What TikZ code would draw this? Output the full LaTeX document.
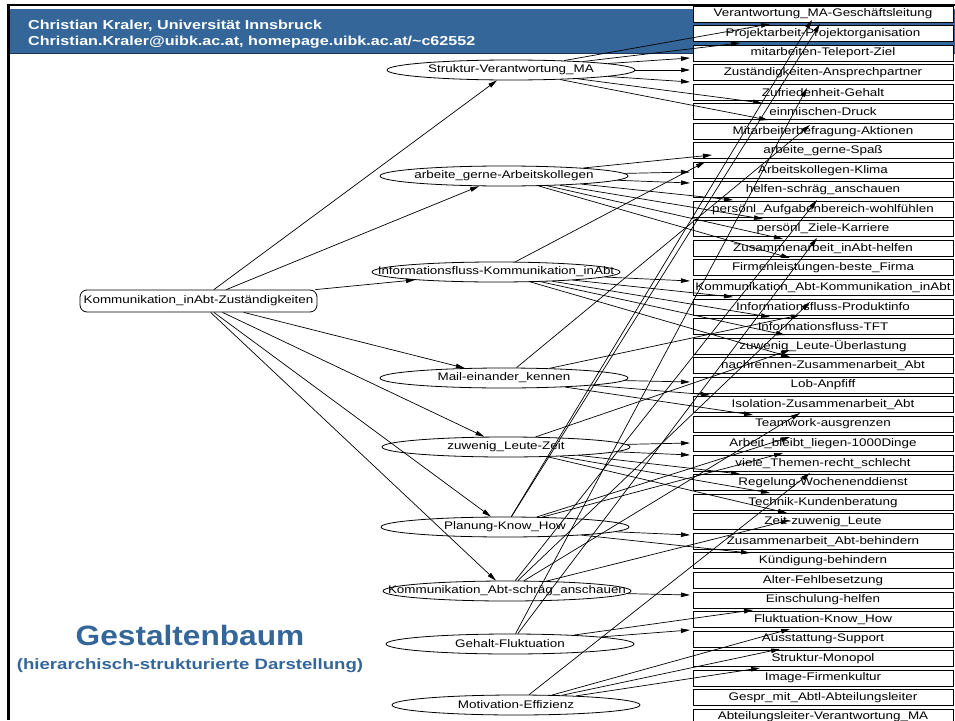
\documentclass[tikz,border=0pt]{standalone}
\usepackage{fontspec}
\setmainfont{Liberation Sans}
\newfontfamily\labelfont[FakeStretch=1.22]{Liberation Sans}
\newfontfamily\headfont[FakeStretch=1.24]{Liberation Sans}
\newfontfamily\titlefont[FakeStretch=1.13]{Liberation Sans}
\usetikzlibrary{shapes.geometric,arrows.meta}
\definecolor{slideblue}{RGB}{53,102,154}
\definecolor{slidenavy}{RGB}{30,50,90}
\tikzset{
  lbl/.style={font=\labelfont\fontsize{11}{12}\selectfont, inner sep=0pt},
  box/.style={lbl, draw, fill=white, line width=0.8pt, minimum width=260pt, minimum height=16pt},
  % fixed-size ellipse; the text sits on top and may run over the outline
  ell/.style={draw, ellipse, line width=0.8pt, minimum width=248pt, minimum height=20pt,
              inner sep=0pt, label={[lbl]center:#1}},
  rootbox/.style={lbl, draw, rounded corners=7pt, line width=0.8pt, minimum width=237pt, minimum height=22pt},
  edge/.style={draw, line width=0.7pt, -{Triangle[length=9pt,width=4.5pt]}},
  headtext/.style={anchor=base west, text=white, font=\headfont\bfseries\fontsize{13}{14}\selectfont, inner sep=0pt},
}
\begin{document}
\begin{tikzpicture}[x=1pt,y=-1pt]
\useasboundingbox (0,0) rectangle (955,720);
\fill[white] (0,0) rectangle (955,720);
% slide frame and header band
\fill[slideblue] (9,9) rectangle (955,53);
\draw[slidenavy, line width=1.5pt] (9,53.5) -- (955,53.5);
\draw[black, line width=1.2pt] (8,5) -- (955,5);
\draw[black, line width=2.5pt] (8.5,4) -- (8.5,720);
\node[headtext] (hd1) at (28,29) {Christian Kraler, Universität Innsbruck};
\node[headtext] (hd2) at (28,45) {Christian.Kraler@uibk.ac.at, homepage.uibk.ac.at/\string~c62552};
% title
\node[text=slideblue, font=\titlefont\bfseries\fontsize{28}{30}\selectfont, inner sep=0pt, anchor=base] (tt) at (190,645) {Gestaltenbaum};
\node[text=slideblue, font=\headfont\bfseries\fontsize{15}{17}\selectfont, inner sep=0pt, anchor=base] (st) at (190,669) {(hierarchisch-strukturierte Darstellung)};

% right column of boxes
\foreach \i/\t in {
 1/Verantwortung\_MA-Geschäftsleitung,
 2/Projektarbeit-Projektorganisation,
 3/mitarbeiten-Teleport-Ziel,
 4/Zuständigkeiten-Ansprechpartner,
 5/Zufriedenheit-Gehalt,
 6/einmischen-Druck,
 7/Mitarbeiterbefragung-Aktionen,
 8/arbeite\_gerne-Spaß,
 9/Arbeitskollegen-Klima,
 10/helfen-schräg\_anschauen,
 11/persönl\_Aufgabenbereich-wohlfühlen,
 12/persönl\_Ziele-Karriere,
 13/Zusammenarbeit\_inAbt-helfen,
 14/Firmenleistungen-beste\_Firma,
 15/Kommunikation\_Abt-Kommunikation\_inAbt,
 16/Informationsfluss-Produktinfo,
 17/Informationsfluss-TFT,
 18/zuwenig\_Leute-Überlastung,
 19/nachrennen-Zusammenarbeit\_Abt,
 20/Lob-Anpfiff,
 21/Isolation-Zusammenarbeit\_Abt,
 22/Teamwork-ausgrenzen,
 23/Arbeit\_bleibt\_liegen-1000Dinge,
 24/viele\_Themen-recht\_schlecht,
 25/Regelung-Wochenenddienst,
 26/Technik-Kundenberatung,
 27/Zeit-zuwenig\_Leute,
 28/Zusammenarbeit\_Abt-behindern,
 29/Kündigung-behindern,
 30/Alter-Fehlbesetzung,
 31/Einschulung-helfen,
 32/Fluktuation-Know\_How,
 33/Ausstattung-Support,
 34/Struktur-Monopol,
 35/Image-Firmenkultur,
 36/Gespr\_mit\_Abtl-Abteilungsleiter,
 37/Abteilungsleiter-Verantwortung\_MA}
 \node[box] (b\i) at (823,{14+19.53*(\i-1)}) {\t};

% root and second level
\node[rootbox] (root) at (198.5,301) {Kommunikation\_inAbt-Zuständigkeiten};
\node[ell={Struktur-Verantwortung\_MA}] (e1) at (511,70) {};
\node[ell={arbeite\_gerne-Arbeitskollegen}] (e2) at (504,176) {};
\node[ell={Informationsfluss-Kommunikation\_inAbt}] (e3) at (496,272) {};
\node[ell={Mail-einander\_kennen}] (e4) at (504,378) {};
\node[ell={zuwenig\_Leute-Zeit}] (e5) at (506,447) {};
\node[ell={Planung-Know\_How}] (e6) at (505,527) {};
\node[ell={Kommunikation\_Abt-schräg\_anschauen}] (e7) at (507,591) {};
\node[ell={Gehalt-Fluktuation}] (e8) at (510,644) {};
\node[ell={Motivation-Effizienz}] (e9) at (516,705) {};

\foreach \e in {e1,e2,e3,e4,e5,e6,e7}
  \draw[edge] (root) -- (\e);

% arrow tips in the box column
\foreach \e/\x/\y in {
 e1/770/24, e1/740/43, e1/690/58, e1/690/70, e1/690/82, e1/762/103, e1/768/120,
 e2/712/155, e2/690/172, e2/690/183, e2/733/200, e2/763/219, e2/783/239, e2/790/258,
 e3/705/162, e3/690/281, e3/733/297, e3/770/317, e3/785/335, e3/790/357,
 e4/810/125, e4/800/315, e4/690/382, e4/710/395, e4/753/415,
 e5/790/350, e5/690/443, e5/690/455, e5/740/474, e5/770/493, e5/787/513,
 e6/812/20, e6/820/24, e6/790/437, e6/783/453, e6/690/535, e6/750/553,
 e7/817/200, e7/810/302, e7/800/413, e7/790/520, e7/690/595,
 e8/807/88, e8/817/238, e8/753/610, e8/690/630,
 e9/810/473, e9/790/629, e9/780/649, e9/760/668}
{
  \coordinate (tip) at (\x,\y);
  \draw[edge] (\e) -- (tip);
}
\end{tikzpicture}
\end{document}
